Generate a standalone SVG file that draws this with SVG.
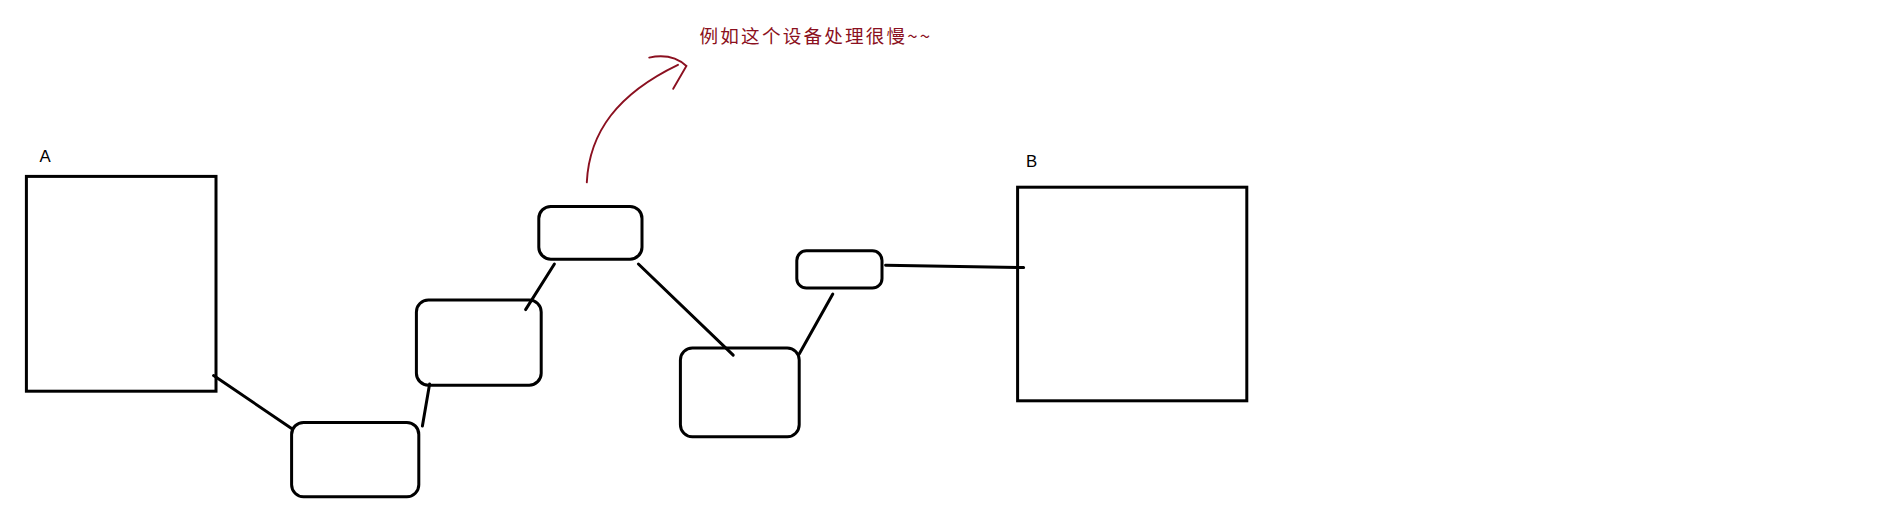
<svg xmlns="http://www.w3.org/2000/svg" width="1882" height="516" viewBox="0 0 1882 516">
<style>
.b{fill:none;stroke:#000;stroke-width:2.5}
.c{fill:none;stroke:#000;stroke-width:2.5;stroke-linecap:round}
.t{font-family:"Liberation Sans","Noto Sans CJK SC",sans-serif;font-size:14px}
.r{fill:none;stroke:#8b1020;stroke-width:1.6;stroke-linecap:round}
</style>
<rect width="1882" height="516" fill="#fff"/>
<g transform="scale(1.2)">
<g id="A"><rect class="b" x="22" y="147" width="158" height="179"/><text class="t" x="33" y="135">A</text></g>
<g id="B"><rect class="b" x="848" y="156" width="191" height="178"/><text class="t" x="855" y="139">B</text></g>
<g id="n1"><rect class="b" x="243" y="352" width="106" height="62" rx="10"/></g>
<g id="n2"><rect class="b" x="347" y="250" width="104" height="71" rx="10"/></g>
<g id="n3"><rect class="b" x="449" y="172" width="86" height="44" rx="10"/></g>
<g id="n4"><rect class="b" x="567" y="290" width="99" height="74" rx="10"/></g>
<g id="n5"><rect class="b" x="664" y="209" width="71" height="31" rx="8"/></g>
<g id="connectors">
<line class="c" x1="178" y1="313" x2="243" y2="357"/>
<line class="c" x1="358" y1="320" x2="352" y2="355"/>
<line class="c" x1="438" y1="258" x2="462" y2="220"/>
<line class="c" x1="532" y1="220" x2="611" y2="296"/>
<line class="c" x1="666" y1="295" x2="694" y2="245"/>
<line class="c" x1="738" y1="221" x2="853" y2="223"/>
<path class="r" d="M489,152 C491,110 515,78 565,54"/>
<path class="r" d="M541,48 Q560,44 572,55 L561,74"/>
</g>
<text x="583" y="36" fill="#8b1020" font-family="'Noto Sans CJK SC',sans-serif" font-size="15.5" textLength="192">例如这个设备处理很慢~~</text>
</g>
</svg>
